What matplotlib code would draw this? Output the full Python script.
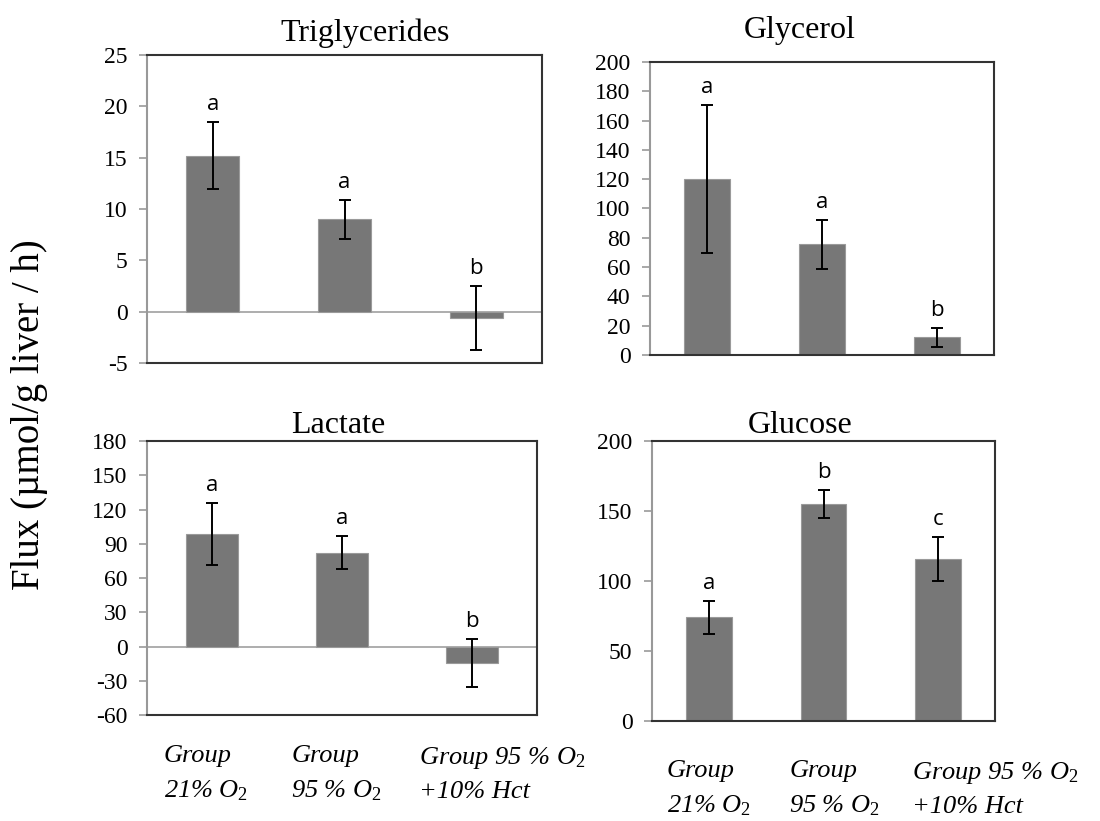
import matplotlib

matplotlib.use("Agg")
import matplotlib.pyplot as plt
import matplotlib.transforms as mtransforms

plt.rcParams["font.family"] = ["Liberation Serif", "DejaVu Serif"]
plt.rcParams["mathtext.fontset"] = "custom"
plt.rcParams["mathtext.it"] = "Liberation Serif:italic"
plt.rcParams["mathtext.rm"] = "Liberation Serif"
plt.rcParams["axes.unicode_minus"] = False

groups = ["Group\n21% $\\mathit{O_2}$", "Group\n95 % $\\mathit{O_2}$",
          "Group 95 % $\\mathit{O_2}$\n+10% Hct"]

tg_mean = [15.2, 9.0, -0.6]
tg_err = [3.3, 1.9, 3.1]
tg_letters = ["a", "a", "b"]

gly_mean = [120.0, 75.5, 12.0]
gly_err = [50.6, 16.5, 6.6]
gly_letters = ["a", "a", "b"]

lac_mean = [98.3, 82.0, -14.7]
lac_err = [27.3, 14.4, 21.2]
lac_letters = ["a", "a", "b"]

glu_mean = [74.0, 155.0, 115.5]
glu_err = [11.9, 9.8, 15.8]
glu_letters = ["a", "b", "c"]

BAR = "#777777"
W, H = 1100, 821


def px_axes(fig, left, top, right, bottom):
    return fig.add_axes([left / W, 1 - bottom / H, (right - left) / W, (bottom - top) / H])


def panel(ax, title, means, errs, letters, ylim, step, title_x, title_pad):
    x = range(len(means))
    ax.bar(x, means, width=0.4, color=BAR, edgecolor="#9a9a9a", linewidth=0.8, zorder=2)
    ax.errorbar(x, means, yerr=errs, fmt="none", ecolor="black", elinewidth=1.4,
                capsize=4, capthick=1.4, zorder=3)
    if ylim[0] < 0:
        ax.axhline(0, color="#a0a0a0", lw=1.2, zorder=1)
    for i, (m, e, lt) in enumerate(zip(means, errs, letters)):
        ax.annotate(lt, (i, m + e), xytext=(0, 5), textcoords="offset points",
                    ha="center", va="bottom", fontsize=16, family=["Open Sans", "DejaVu Sans"])
    ax.set_xlim(-0.5, len(means) - 0.5)
    ax.set_ylim(*ylim)
    ax.set_yticks(range(ylim[0], ylim[1] + 1, step))
    ax.set_xticks([])
    ax.tick_params(axis="y", direction="out", length=6, width=1.2, color="#999999",
                   labelsize=17, pad=8)
    for s in ("top", "right", "bottom"):
        ax.spines[s].set_color("#333333")
        ax.spines[s].set_linewidth(1.5)
    ax.spines["left"].set_color("#999999")
    ax.spines["left"].set_linewidth(1.5)
    ax.set_title(title, fontsize=23, x=title_x, pad=title_pad)


def xlabels(ax, offsets, ypos):
    trans = mtransforms.blended_transform_factory(ax.transData, ax.transAxes)
    for i, (lab, off) in enumerate(zip(groups, offsets)):
        ax.text(i + off, ypos, lab, transform=trans, ha="left", va="top",
                fontsize=19, style="italic", linespacing=1.6, clip_on=False)


fig = plt.figure(figsize=(11, 8.21), dpi=100)

ax1 = px_axes(fig, 147, 55, 542, 363)
panel(ax1, "Triglycerides", tg_mean, tg_err, tg_letters, (-5, 25), 5, 0.552, 10)

ax2 = px_axes(fig, 650, 62, 994, 355)
panel(ax2, "Glycerol", gly_mean, gly_err, gly_letters, (0, 200), 20, 0.436, 17)

ax3 = px_axes(fig, 147, 441, 537, 715)
panel(ax3, "Lactate", lac_mean, lac_err, lac_letters, (-60, 180), 30, 0.49, 6)
xlabels(ax3, [-0.37, -0.39, -0.41], -0.11)

ax4 = px_axes(fig, 652, 441, 995, 721)
panel(ax4, "Glucose", glu_mean, glu_err, glu_letters, (0, 200), 50, 0.431, 6)
xlabels(ax4, [-0.37, -0.30, -0.23], -0.14)

fig.text(0.027, 1 - 415 / H, "Flux (µmol/g liver / h)", rotation=90,
         ha="center", va="center", fontsize=28)

fig.savefig("out.png", dpi=100)
